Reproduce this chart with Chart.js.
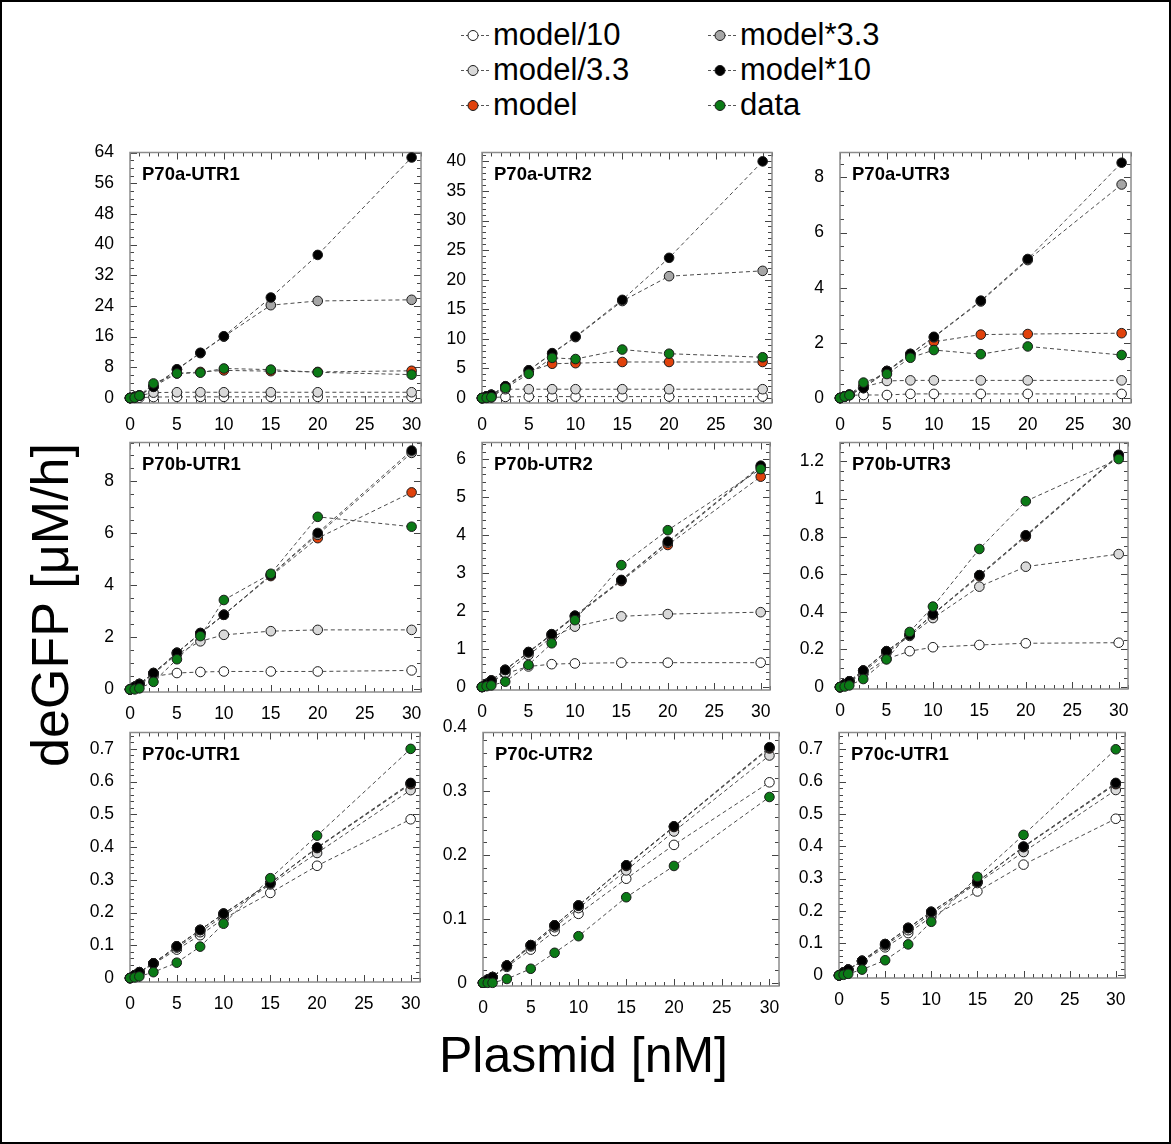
<!DOCTYPE html>
<html>
<head>
<meta charset="utf-8">
<script src="https://cdn.jsdelivr.net/npm/chart.js@4.4.0/dist/chart.umd.min.js"></script>
<style>
  body { margin: 0; background: #fff; }
  #page { position: relative; width: 1171px; height: 1144px; overflow: hidden;
          font-family: 'Liberation Sans', Arial, sans-serif; color: #000; }
  #frame { position: absolute; left: 0; top: 0; width: 1171px; height: 1144px;
           border: 2px solid #000; box-sizing: border-box; }
  canvas { position: absolute; }
  .leg { position: absolute; font-size: 31px; line-height: 34px; white-space: nowrap; display: flex; align-items: center; }
  .leg svg { margin-right: 2px; }
  #xTitle { position: absolute; left: 0; width: 1167px; top: 1025px; text-align: center;
            font-size: 50px; line-height: 60px; }
  #yTitle { position: absolute; left: -150px; top: 575px; width: 400px; height: 60px; text-align: center;
            font-size: 52px; line-height: 60px; transform: rotate(-90deg); }
</style>
</head>
<body>
<div id="page">
  <div id="frame"></div>
  <div id="xTitle">Plasmid [nM]</div>
  <div id="yTitle">deGFP [μM/h]</div>
</div>
<script>
// x values shared by every panel
const plasmid = [0, 0.5, 1, 2.5, 5, 7.5, 10, 15, 20, 30];
const xTicks = [0, 5, 10, 15, 20, 25, 30];

const seriesNames = ['model/10', 'model/3.3', 'model', 'model*3.3', 'model*10', 'data'];
const seriesColors = ['#ffffff', '#d9d9d9', '#e0420c', '#a6a6a6', '#000000', '#0b7a16'];

// rows in seriesNames order
const a1Values = [
  [0, 0.05, 0.1, 0.25, 0.3, 0.3, 0.3, 0.3, 0.3, 0.3],
  [0, 0.3, 0.6, 1.4, 1.5, 1.5, 1.5, 1.5, 1.5, 1.5],
  [0, 0.3, 0.65, 3.0, 6.4, 6.8, 7.2, 7.0, 6.8, 7.1],
  [0, 0.3, 0.65, 3.0, 7.4, 11.7, 16.0, 24.2, 25.3, 25.6],
  [0, 0.3, 0.65, 2.9, 7.5, 11.8, 16.1, 26.2, 37.3, 62.7],
  [0, 0.1, 0.6, 3.8, 6.4, 6.6, 7.7, 7.4, 6.7, 6.1]
];
const a2Values = [
  [0, 0.05, 0.1, 0.2, 0.25, 0.25, 0.25, 0.25, 0.25, 0.25],
  [0, 0.3, 0.55, 1.5, 1.5, 1.5, 1.5, 1.5, 1.5, 1.5],
  [0, 0.3, 0.55, 1.9, 4.5, 5.8, 5.9, 6.1, 6.1, 6.1],
  [0, 0.3, 0.55, 2.0, 4.7, 7.5, 10.3, 16.4, 20.6, 21.5],
  [0, 0.3, 0.55, 2.0, 4.7, 7.6, 10.4, 16.6, 23.7, 40.0],
  [0, 0.05, 0.15, 1.7, 4.1, 6.8, 6.6, 8.2, 7.5, 6.9]
];
const a3Values = [
  [0, 0.05, 0.1, 0.11, 0.11, 0.15, 0.15, 0.15, 0.15, 0.15],
  [0, 0.06, 0.12, 0.4, 0.62, 0.64, 0.64, 0.64, 0.64, 0.64],
  [0, 0.06, 0.12, 0.44, 0.98, 1.54, 2.04, 2.30, 2.32, 2.35],
  [0, 0.06, 0.12, 0.36, 0.98, 1.6, 2.2, 3.5, 5.0, 7.74],
  [0, 0.06, 0.12, 0.36, 0.98, 1.6, 2.22, 3.53, 5.04, 8.53],
  [0, 0.05, 0.1, 0.56, 0.87, 1.46, 1.74, 1.59, 1.87, 1.56]
];
const b1Values = [
  [0, 0.1, 0.2, 0.5, 0.63, 0.67, 0.69, 0.69, 0.69, 0.73],
  [0, 0.1, 0.2, 0.6, 1.35, 1.85, 2.10, 2.24, 2.29, 2.29],
  [0, 0.1, 0.21, 0.63, 1.4, 2.15, 2.87, 4.36, 5.82, 7.58],
  [0, 0.1, 0.21, 0.63, 1.41, 2.17, 2.87, 4.4, 5.95, 9.1],
  [0, 0.1, 0.21, 0.63, 1.41, 2.17, 2.87, 4.4, 6.02, 9.19],
  [0, 0, 0.04, 0.29, 1.16, 2.05, 3.44, 4.45, 6.64, 6.26]
];
const b2Values = [
  [0, 0.06, 0.12, 0.35, 0.54, 0.6, 0.62, 0.64, 0.64, 0.64],
  [0, 0.08, 0.15, 0.37, 0.84, 1.31, 1.59, 1.86, 1.92, 1.97],
  [0, 0.08, 0.17, 0.45, 0.91, 1.37, 1.85, 2.79, 3.74, 5.54],
  [0, 0.08, 0.17, 0.45, 0.92, 1.39, 1.87, 2.81, 3.8, 5.8],
  [0, 0.08, 0.17, 0.45, 0.92, 1.39, 1.88, 2.82, 3.83, 5.83],
  [0, 0.02, 0.04, 0.14, 0.58, 1.15, 1.76, 3.21, 4.13, 5.74]
];
const b3Values = [
  [0, 0.015, 0.03, 0.07, 0.15, 0.191, 0.212, 0.224, 0.233, 0.236],
  [0, 0.015, 0.031, 0.08, 0.18, 0.272, 0.367, 0.534, 0.64, 0.707],
  [0, 0.015, 0.031, 0.088, 0.19, 0.278, 0.385, 0.59, 0.80, 1.23],
  [0, 0.015, 0.031, 0.088, 0.191, 0.278, 0.388, 0.595, 0.805, 1.23],
  [0, 0.015, 0.031, 0.088, 0.191, 0.278, 0.388, 0.595, 0.807, 1.235],
  [0, 0.003, 0.009, 0.043, 0.147, 0.293, 0.428, 0.734, 0.988, 1.212]
];
const c1Values = [
  [0, 0.009, 0.017, 0.043, 0.087, 0.131, 0.181, 0.26, 0.343, 0.485],
  [0, 0.009, 0.018, 0.045, 0.093, 0.14, 0.19, 0.286, 0.382, 0.574],
  [0, 0.009, 0.018, 0.045, 0.097, 0.147, 0.196, 0.29, 0.397, 0.592],
  [0, 0.009, 0.018, 0.045, 0.097, 0.147, 0.197, 0.29, 0.398, 0.594],
  [0, 0.009, 0.018, 0.045, 0.097, 0.147, 0.197, 0.29, 0.399, 0.596],
  [0, 0.002, 0.005, 0.018, 0.047, 0.096, 0.166, 0.305, 0.435, 0.70]
];
const c2Values = [
  [0, 0.005, 0.009, 0.025, 0.052, 0.081, 0.108, 0.163, 0.216, 0.314],
  [0, 0.005, 0.009, 0.027, 0.057, 0.087, 0.117, 0.176, 0.237, 0.356],
  [0, 0.005, 0.009, 0.027, 0.059, 0.09, 0.121, 0.183, 0.244, 0.367],
  [0, 0.005, 0.009, 0.027, 0.059, 0.09, 0.121, 0.184, 0.245, 0.368],
  [0, 0.005, 0.009, 0.027, 0.059, 0.09, 0.121, 0.184, 0.245, 0.369],
  [0, 0, 0, 0.006, 0.022, 0.047, 0.073, 0.134, 0.183, 0.291]
];

const a1Ticks = [0, 8, 16, 24, 32, 40, 48, 56, 64];
const a2Ticks = [0, 5, 10, 15, 20, 25, 30, 35, 40];
const a3Ticks = [0, 2, 4, 6, 8];
const b1Ticks = [0, 2, 4, 6, 8];
const b2Ticks = [0, 1, 2, 3, 4, 5, 6];
const b3Ticks = [0, 0.2, 0.4, 0.6, 0.8, 1, 1.2];
const c1Ticks = [0, 0.1, 0.2, 0.3, 0.4, 0.5, 0.6, 0.7];
const c2Ticks = [0, 0.1, 0.2, 0.3, 0.4];

const FONT = "'Liberation Sans', Arial, sans-serif";
const page = document.getElementById('page');

// plot-area box: left, top, width, height; axis range and minor-tick subdivisions
const panels = [
  { title: 'P70a-UTR1', values: a1Values, yTicks: a1Ticks, yMin: -1.3, yMax: 64, ySubs: 4, box: [130, 148, 291, 255] },
  { title: 'P70a-UTR2', values: a2Values, yTicks: a2Ticks, yMin: -0.83, yMax: 41.5, ySubs: 5, box: [482, 148, 290, 255] },
  { title: 'P70a-UTR3', values: a3Values, yTicks: a3Ticks, yMin: -0.18, yMax: 8.9, ySubs: 4, box: [840, 148, 291, 255] },
  { title: 'P70b-UTR1', values: b1Values, yTicks: b1Ticks, yMin: -0.1, yMax: 9.5, ySubs: 4, box: [130, 438, 291, 254] },
  { title: 'P70b-UTR2', values: b2Values, yTicks: b2Ticks, yMin: -0.08, yMax: 6.44, ySubs: 5, box: [482, 438, 288, 252] },
  { title: 'P70b-UTR3', values: b3Values, yTicks: b3Ticks, yMin: -0.01, yMax: 1.3, ySubs: 4, box: [840, 438, 288, 251] },
  { title: 'P70c-UTR1', values: c1Values, yTicks: c1Ticks, yMin: -0.012, yMax: 0.75, ySubs: 5, box: [130, 728, 290, 254] },
  { title: 'P70c-UTR2', values: c2Values, yTicks: c2Ticks, yMin: -0.005, yMax: 0.392, ySubs: 5, box: [483, 728, 296, 258] },
  { title: 'P70c-UTR1', values: c1Values, yTicks: c1Ticks, yMin: -0.008, yMax: 0.752, ySubs: 5, box: [839, 728, 286, 250] }
];

// inward tick marks on all four sides + grey frame, title in the corner
function sideTicks(ctx, scale, step, subs, area, horizontal) {
  const minor = step / subs;
  const start = Math.ceil(scale.min / minor - 1e-6);
  const end = Math.floor(scale.max / minor + 1e-6);
  for (let i = start; i <= end; i++) {
    const p = Math.round(scale.getPixelForValue(i * minor)) + 0.5;
    const len = (i % subs === 0) ? 7 : 4;
    ctx.beginPath();
    if (horizontal) {
      ctx.moveTo(p, area.bottom); ctx.lineTo(p, area.bottom - len);
      ctx.moveTo(p, area.top); ctx.lineTo(p, area.top + len);
    } else {
      ctx.moveTo(area.left, p); ctx.lineTo(area.left + len, p);
      ctx.moveTo(area.right, p); ctx.lineTo(area.right - len, p);
    }
    ctx.stroke();
  }
}

const framePlugin = {
  id: 'framePlugin',
  beforeDatasetsDraw(chart, args, opts) {
    const { ctx, chartArea: a } = chart;
    ctx.save();
    ctx.strokeStyle = '#444';
    ctx.lineWidth = 1;
    sideTicks(ctx, chart.scales.x, 5, 5, a, true);
    sideTicks(ctx, chart.scales.y, opts.step, opts.subs, a, false);
    ctx.strokeStyle = '#8c8c8c';
    ctx.lineWidth = 1.5;
    ctx.strokeRect(a.left, a.top, a.right - a.left, a.bottom - a.top);
    ctx.restore();
  },
  afterDraw(chart, args, opts) {
    const { ctx, chartArea: a } = chart;
    ctx.save();
    ctx.font = 'bold 18.5px ' + FONT;
    ctx.fillStyle = '#000';
    ctx.textBaseline = 'alphabetic';
    ctx.fillText(opts.title, a.left + 12, a.top + 27);
    ctx.restore();
  }
};

panels.forEach(p => {
  const [L, T, W, H] = p.box;
  const cv = document.createElement('canvas');
  const cw = W + 60 + 14, ch = H + 14 + 34;
  cv.width = cw; cv.height = ch;
  cv.style.left = (L - 60) + 'px';
  cv.style.top = (T - 14) + 'px';
  cv.style.width = cw + 'px';
  cv.style.height = ch + 'px';
  page.appendChild(cv);

  new Chart(cv.getContext('2d'), {
    type: 'scatter',
    data: {
      datasets: seriesNames.map((name, s) => ({
        label: name,
        data: plasmid.map((x, i) => ({ x: x, y: p.values[s][i] })),
        showLine: true,
        borderColor: '#4a4a4a',
        borderWidth: 1,
        borderDash: [4, 3],
        pointRadius: 4.8,
        pointBackgroundColor: seriesColors[s],
        pointBorderColor: '#1a1a1a',
        pointBorderWidth: 1,
        order: 5 - s,
        clip: false
      }))
    },
    options: {
      responsive: false,
      animation: false,
      devicePixelRatio: 1,
      layout: { padding: { top: 14, right: 14, left: 0, bottom: 0 } },
      plugins: {
        legend: { display: false },
        tooltip: { enabled: false },
        framePlugin: { title: p.title, step: p.yTicks[1] - p.yTicks[0], subs: p.ySubs }
      },
      scales: {
        x: {
          type: 'linear', min: 0, max: 31,
          afterBuildTicks: s => { s.ticks = xTicks.map(v => ({ value: v })); },
          afterFit: s => { s.height = 34; },
          grid: { display: false }, border: { display: false },
          ticks: { color: '#000', font: { size: 17.5, family: FONT }, padding: 4, maxRotation: 0, autoSkip: false,
                   callback: v => String(v) }
        },
        y: {
          type: 'linear', min: p.yMin, max: p.yMax,
          afterBuildTicks: s => { s.ticks = p.yTicks.map(v => ({ value: v })); },
          afterFit: s => { s.width = 60; },
          grid: { display: false }, border: { display: false },
          ticks: { color: '#000', font: { size: 17.5, family: FONT }, padding: 8, autoSkip: false,
                   callback: v => String(Math.round(v * 1000) / 1000) }
        }
      }
    },
    plugins: [framePlugin]
  });
});

// legend: two columns, three rows
const legendLeft = [459, 706];
seriesNames.forEach((name, s) => {
  const col = Math.floor(s / 3), row = s % 3;
  const d = document.createElement('div');
  d.className = 'leg';
  d.style.left = legendLeft[col] + 'px';
  d.style.top = (18 + row * 35) + 'px';
  d.innerHTML =
    '<svg width="32" height="34"><line x1="2" y1="17.5" x2="30" y2="17.5" stroke="#555" stroke-width="1" stroke-dasharray="3,2"/>' +
    '<circle cx="14" cy="17.5" r="5" fill="' + seriesColors[s] + '" stroke="#1a1a1a" stroke-width="1"/></svg>' +
    '<span>' + name + '</span>';
  page.appendChild(d);
});
</script>
</body>
</html>
